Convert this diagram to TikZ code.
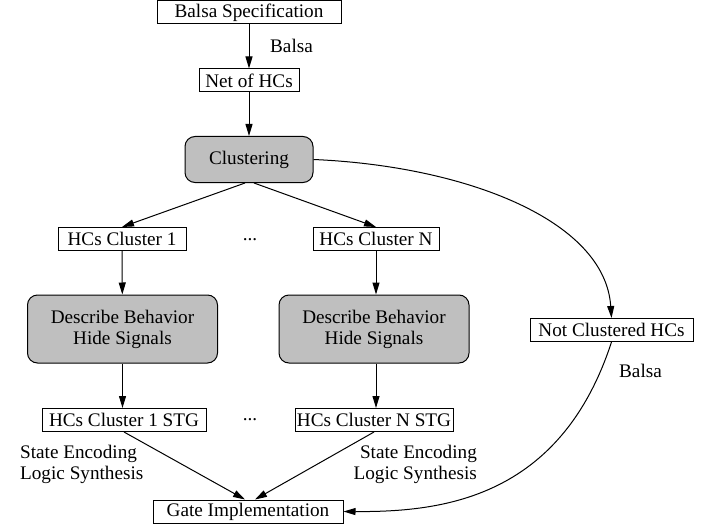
\documentclass[tikz,border=0pt]{standalone}
\usepackage{fontspec}
\setmainfont{Liberation Serif}
\usetikzlibrary{arrows.meta}
\definecolor{boxgray}{gray}{0.75}
\tikzset{
  every node/.style={font=\fontsize{9.6}{10.5}\selectfont},
  box/.style={draw, fill=white, inner sep=0pt, minimum height=11.5pt},
  proc/.style={draw, fill=boxgray, rounded corners=5pt, align=center, inner sep=0pt},
}
\begin{document}
\begin{tikzpicture}[x=0.5pt,y=-0.5pt,line width=0.5pt]
      \useasboundingbox (0,0) rectangle (715,529);
      \draw
        (249,12.5) node[box,minimum width=92pt] (spec){Balsa Specification}
        (249,80.5) node[box,minimum width=50pt] (net){Net of HCs}
        (249,159.5) node[proc,minimum width=64pt,minimum height=23pt] (clust){Clustering}
        (122,239) node[box,minimum width=64pt] (c1){HCs Cluster 1}
        (376,239) node[box,minimum width=63pt] (cN){HCs Cluster N}
        (122.5,329) node[proc,minimum width=95pt,minimum height=34pt] (desc1){Describe Behavior\\Hide Signals}
        (374,329) node[proc,minimum width=95pt,minimum height=34pt] (descN){Describe Behavior\\Hide Signals}
        (124,420) node[box,minimum width=82pt] (stg1){HCs Cluster 1 STG}
        (374,420) node[box,minimum width=79pt] (stgN){HCs Cluster N STG}
        (248,511.5) node[box,minimum width=95pt] (gate){Gate Implementation}
        (611.5,330) node[box,minimum width=81.5pt] (notcl){Not Clustered HCs};
      \draw
        (250,240) node (dots1){...}
        (250,420) node (dots2){...}
        (263,46) node[anchor=west] (lbl1){Balsa}
        (612,371) node[anchor=west] (lbl2){Balsa}
        (13,464) node[anchor=west,align=left] (enc1){State Encoding\\Logic Synthesis}
        (484,464) node[anchor=east,align=right] (encN){State Encoding\\Logic Synthesis};
      \begin{scope}[-{Triangle[length=6pt,width=3.5pt]}]
        \draw (spec) to (net);
        \draw (net) to (clust);
        \draw ([xshift=-2pt]clust.south) to (c1.north);
        \draw ([xshift=2.5pt]clust.south) to (cN.north);
        \draw (c1) to (desc1);
        \draw (cN) to (descN.north-|cN);
        \draw (desc1.south) to (stg1.north-|desc1);
        \draw (descN.south-|cN) to (stgN.north-|cN);
        \draw (stg1.south) to ([xshift=-1.5pt]gate.north);
        \draw (stgN.south) to ([xshift=3.5pt]gate.north);
        \draw (clust.east) .. controls (465,166) and (605,220) .. (notcl.north);
        \draw (notcl.south) .. controls (560,500) and (440,512) .. (gate.east);
      \end{scope}
    \end{tikzpicture}
\end{document}
